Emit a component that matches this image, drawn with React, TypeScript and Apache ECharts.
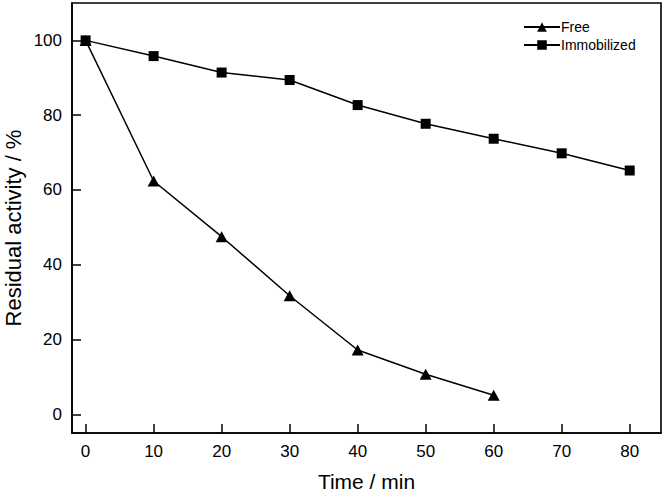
import React, { useEffect, useRef } from "react";
import * as echarts from "echarts";

const timeMin = [0, 10, 20, 30, 40, 50, 60, 70, 80];
const freeValues = [100, 62.4, 47.5, 31.7, 17.2, 10.7, 5.1];
const immobilizedValues = [100, 95.8, 91.4, 89.4, 82.7, 77.7, 73.7, 69.8, 65.2];
const xTicks = [0, 10, 20, 30, 40, 50, 60, 70, 80];
const yTicks = [0, 20, 40, 60, 80, 100];
const seriesNames = ["Free", "Immobilized"];
const xTitle = "Time / min";
const yTitle = "Residual activity / %";

const FONT = "'Liberation Sans', Arial, Helvetica, sans-serif";

export default function App() {
  const ref = useRef<HTMLDivElement>(null);
  useEffect(() => {
    if (!ref.current) return;
    const chart = echarts.init(ref.current, null, { renderer: "svg" });
    const freeData = freeValues.map((v, i) => [timeMin[i], v]);
    const immData = immobilizedValues.map((v, i) => [timeMin[i], v]);
    chart.setOption({
      animation: false,
      backgroundColor: "#ffffff",
      textStyle: { fontFamily: FONT, color: "#000" },
      grid: {
        left: 72,
        right: 5,
        top: 3,
        bottom: 60,
        show: true,
        borderColor: "#000",
        borderWidth: 1.6,
        containLabel: false,
      },
      legend: {
        orient: "vertical",
        left: 518,
        top: 15,
        itemWidth: 36,
        itemHeight: 12,
        itemGap: 4,
        textStyle: { fontFamily: FONT, fontSize: 14, color: "#000", padding: [0, 0, 0, -4] },
        data: seriesNames,
      },
      xAxis: {
        type: "value",
        min: -2,
        max: 84.6,
        name: xTitle,
        nameLocation: "middle",
        nameGap: 38,
        nameTextStyle: { fontFamily: FONT, fontSize: 21, color: "#000" },
        splitLine: { show: false },
        axisLine: { show: true, onZero: false, lineStyle: { color: "#000", width: 1.6 } },
        axisTick: {
          show: true,
          inside: true,
          length: 9,
          customValues: xTicks,
          lineStyle: { color: "#000", width: 1.5 },
        },
        axisLabel: {
          show: true,
          customValues: xTicks,
          margin: 10,
          fontFamily: FONT,
          fontSize: 17,
          color: "#000",
        },
      },
      yAxis: {
        type: "value",
        min: -5,
        max: 110,
        splitLine: { show: false },
        axisLine: { show: true, onZero: false, lineStyle: { color: "#000", width: 1.6 } },
        axisTick: {
          show: true,
          inside: true,
          length: 9,
          customValues: yTicks,
          lineStyle: { color: "#000", width: 1.5 },
        },
        axisLabel: {
          show: true,
          customValues: yTicks,
          margin: 10,
          fontFamily: FONT,
          fontSize: 17,
          color: "#000",
        },
      },
      graphic: [
        {
          type: "text",
          x: 13,
          y: 228,
          rotation: Math.PI / 2,
          style: {
            text: yTitle,
            fontFamily: FONT,
            fontSize: 22,
            fill: "#000",
            align: "center",
            verticalAlign: "middle",
          },
        },
      ],
      series: [
        {
          name: seriesNames[0],
          type: "line",
          data: freeData,
          symbol: "triangle",
          symbolSize: [12, 11],
          lineStyle: { color: "#000", width: 1.5 },
          itemStyle: { color: "#000" },
          z: 3,
        },
        {
          name: seriesNames[1],
          type: "line",
          data: immData,
          symbol: "rect",
          symbolSize: 10,
          lineStyle: { color: "#000", width: 1.5 },
          itemStyle: { color: "#000" },
          z: 2,
        },
      ],
    });
    return () => chart.dispose();
  }, []);
  return <div ref={ref} style={{ width: 666, height: 497, position: "absolute", left: 0, top: 0 }} />;
}
